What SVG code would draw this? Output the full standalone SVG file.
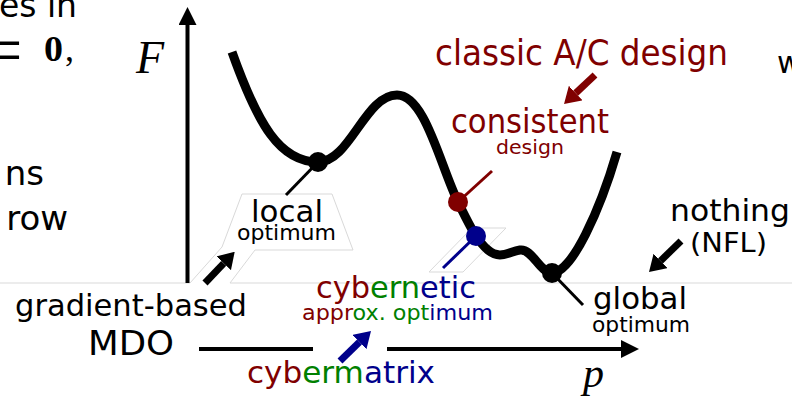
<svg xmlns="http://www.w3.org/2000/svg" width="792" height="396" viewBox="0 0 792 396">
<style>
.s{font-family:"DejaVu Sans","Liberation Sans",sans-serif}
.m{font-family:"Liberation Serif",serif;font-style:italic}
.red{fill:#800000}.grn{fill:#008000}.blu{fill:#00008b}.blk{fill:#000}
.faint{fill:none;stroke:#d9d9d9;stroke-width:1}
.thin{stroke-width:3;fill:none}
.shaft{stroke-width:7;fill:none}
</style>
<defs>
<marker id="hk" viewBox="0 0 16 20" refX="0" refY="10" markerWidth="16" markerHeight="20" markerUnits="userSpaceOnUse" orient="auto"><path d="M0,0 L16,10 L0,20 z" fill="#000"/></marker>
<marker id="hr" viewBox="0 0 16 20" refX="0" refY="10" markerWidth="16" markerHeight="20" markerUnits="userSpaceOnUse" orient="auto"><path d="M0,0 L16,10 L0,20 z" fill="#800000"/></marker>
<marker id="hb" viewBox="0 0 16 20" refX="0" refY="10" markerWidth="16" markerHeight="20" markerUnits="userSpaceOnUse" orient="auto"><path d="M0,0 L16,10 L0,20 z" fill="#00008b"/></marker>
<marker id="ax" viewBox="0 0 18 18" refX="0" refY="9" markerWidth="18" markerHeight="18" markerUnits="userSpaceOnUse" orient="auto"><path d="M0,0 L18,9 L0,18 z" fill="#000"/></marker>
</defs>
<rect width="792" height="396" fill="#fff"/>

<g id="left-text" class="s" fill="#000">
<text x="77" y="17" font-size="33" text-anchor="end">es in</text>
<text x="-17" y="74" font-family="Liberation Serif,serif" font-size="70">=</text>
<text x="44" y="61" font-family="Liberation Serif,serif" font-size="36" font-weight="bold" textLength="19" lengthAdjust="spacingAndGlyphs">0</text>
<text x="65" y="61" font-family="Liberation Serif,serif" font-size="36">,</text>
<text x="44" y="185" font-size="34" text-anchor="end">ns</text>
<text x="68" y="230" font-size="34" text-anchor="end">row</text>
<text x="777" y="73" font-size="30">w</text>
</g>

<g id="faint-guides">
<line class="faint" x1="0" y1="283" x2="190" y2="283"/>
<line class="faint" x1="230" y1="283" x2="792" y2="283"/>
<path class="faint" d="M190,283 L222,247 L242,194 L332,194 L353,250 L255,250 L230,283"/>
<path class="faint" d="M429,272 L463,272 L506,228 L472,228 z"/>
</g>

<g id="axes">
<line x1="187.5" y1="283" x2="187.5" y2="25" stroke="#000" stroke-width="4" marker-end="url(#ax)"/>
<line x1="199" y1="349" x2="313" y2="349" stroke="#000" stroke-width="4"/>
<line x1="387" y1="349" x2="621" y2="349" stroke="#000" stroke-width="4" marker-end="url(#ax)"/>
<text class="m" x="136" y="73" font-size="46">F</text>
<text class="m" x="583" y="387" font-size="42">p</text>
</g>

<g id="curve">
<line class="thin" x1="318" y1="162" x2="286" y2="195" stroke="#000"/>
<line class="thin" x1="458" y1="202" x2="492" y2="171" stroke="#800000"/>
<line class="thin" x1="476" y1="236" x2="443" y2="268" stroke="#00008b"/>
<line class="thin" x1="552" y1="273" x2="583" y2="305" stroke="#000"/>
<path d="M232,52 C258,125 280,162 318,162 C350,162 365,95 397,95 C425,95 440,165 458,202 C468,222 476,240 488,250 C500,260 508,252 520,250 C532,248 540,273 552,273 C572,273 600,210 617,152" fill="none" stroke="#000" stroke-width="9"/>
</g>

<g id="local-optimum">
<circle cx="318" cy="162" r="10" fill="#000"/>
<text class="s" x="251" y="222" font-size="31" textLength="72" lengthAdjust="spacingAndGlyphs">local</text>
<text class="s" x="237" y="240" font-size="22" textLength="99" lengthAdjust="spacingAndGlyphs">optimum</text>
</g>

<g id="consistent-design">
<circle cx="458" cy="202" r="10" fill="#800000"/>
<text class="s red" x="451" y="133" font-size="33" textLength="158" lengthAdjust="spacingAndGlyphs">consistent</text>
<text class="s red" x="496" y="154" font-size="20" textLength="68" lengthAdjust="spacingAndGlyphs">design</text>
</g>

<g id="classic-design">
<text class="s red" x="435" y="65" font-size="36" textLength="293" lengthAdjust="spacingAndGlyphs">classic A/C design</text>
</g>

<g id="cybernetic-optimum">
<circle cx="476" cy="236" r="10" fill="#00008b"/>
<text class="s" x="316" y="298" font-size="30" textLength="160" lengthAdjust="spacingAndGlyphs"><tspan class="red">cyb</tspan><tspan class="grn">ern</tspan><tspan class="blu">etic</tspan></text>
<text class="s" x="302" y="320" font-size="22" textLength="191" lengthAdjust="spacingAndGlyphs"><tspan class="red">appr</tspan><tspan class="grn">ox. opt</tspan><tspan class="blu">imum</tspan></text>
</g>

<g id="global-optimum">
<circle cx="552" cy="273" r="10" fill="#000"/>
<text class="s" x="593" y="309" font-size="31" textLength="94" lengthAdjust="spacingAndGlyphs">global</text>
<text class="s" x="592" y="332" font-size="22" textLength="98" lengthAdjust="spacingAndGlyphs">optimum</text>
</g>

<g id="gradient-mdo">
<text class="s" x="15" y="316" font-size="30" textLength="232" lengthAdjust="spacingAndGlyphs">gradient-based</text>
<text class="s" x="88" y="355" font-size="33" textLength="86" lengthAdjust="spacingAndGlyphs">MDO</text>
</g>

<g id="cybermatrix">
<text class="s" x="247" y="383" font-size="31" textLength="188" lengthAdjust="spacingAndGlyphs"><tspan class="red">cyb</tspan><tspan class="grn">erm</tspan><tspan class="blu">atrix</tspan></text>
</g>

<g id="nothing-nfl">
<text class="s" x="670" y="221" font-size="31" textLength="120" lengthAdjust="spacingAndGlyphs">nothing</text>
<text class="s" x="690" y="252" font-size="27" textLength="77" lengthAdjust="spacingAndGlyphs">(NFL)</text>
</g>

<g id="connectors">
<line class="shaft" x1="595" y1="75" x2="575.7" y2="93.1" stroke="#800000" marker-end="url(#hr)"/>
<line class="shaft" x1="205" y1="283" x2="223.7" y2="263.3" stroke="#000" marker-end="url(#hk)"/>
<line class="shaft" x1="340" y1="361" x2="359.5" y2="342.1" stroke="#00008b" marker-end="url(#hb)"/>
<line class="shaft" x1="681" y1="241" x2="660.5" y2="260.9" stroke="#000" marker-end="url(#hk)"/>
</g>
</svg>
